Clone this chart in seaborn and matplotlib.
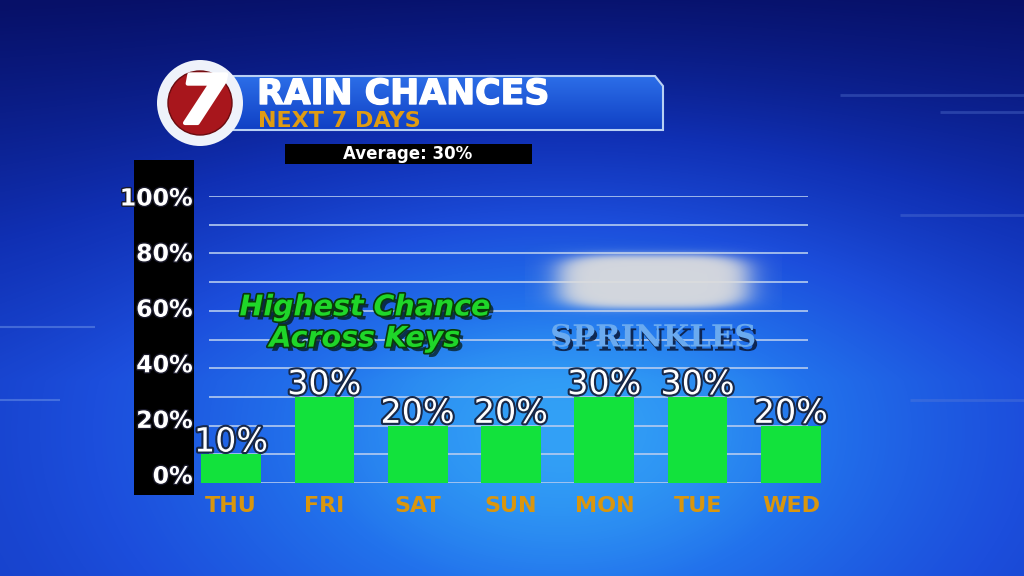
import numpy as np
import matplotlib.pyplot as plt
import matplotlib.patheffects as pe
import matplotlib.transforms as mtrans
from matplotlib.patches import Rectangle, Circle, Polygon
from matplotlib.colors import LinearSegmentedColormap
import seaborn as sns

# Data
days = ['THU', 'FRI', 'SAT', 'SUN', 'MON', 'TUE', 'WED']
chances = [10, 30, 20, 20, 30, 30, 20]
tick_values = [0, 20, 40, 60, 80, 100]
tick_labels = ['0%', '20%', '40%', '60%', '80%', '100%']
grid_values = list(range(0, 101, 10))
average = 30

plt.rcParams['font.family'] = 'DejaVu Sans'
W, H = 1024, 576
fig = plt.figure(figsize=(10.24, 5.76), dpi=100)

# Background layer (pixel coordinates)
bg = fig.add_axes([0, 0, 1, 1], zorder=0)
yy, xx = np.mgrid[0:H, 0:W]
glow = np.exp(-(((xx - 560) / 400.0) ** 2 + ((yy - 430) / 260.0) ** 2))
vert = np.clip(yy / 380.0, 0, 1)
shade = 0.6 * glow + 0.4 * vert
bg_cmap = LinearSegmentedColormap.from_list(
    'bg', [(0, '#071068'), (0.3, '#1030b4'), (0.55, '#1c4edc'), (0.8, '#2272ec'), (1, '#32a0f6')])
bg.imshow(shade, cmap=bg_cmap, extent=(0, W, H, 0), aspect='auto', zorder=0)

# faint decorative lines
bg.hlines([327, 400], [0, 0], [95, 60], colors='#6f95e8', lw=1.5, alpha=0.5, zorder=1)
bg.hlines([95, 112, 215, 400], [840, 940, 900, 910], [1024, 1024, 1024, 1024],
          colors='#5f7fd8', lw=2, alpha=0.35, zorder=1)

# black label panel
bg.add_patch(Rectangle((134, 160), 60, 335, facecolor='black', zorder=2))

# title banner
banner = Polygon([(232, 76), (655, 76), (663, 86), (663, 130), (232, 130)], closed=True,
                 facecolor='none', edgecolor='#b8d0f4', lw=1.5, zorder=4)
bg.add_patch(banner)
grad = np.linspace(0, 1, 60)[:, None] * np.ones((1, 10))
ban_cmap = LinearSegmentedColormap.from_list('ban', ['#2c6ee8', '#1040c4'])
im = bg.imshow(grad, cmap=ban_cmap, extent=(232, 663, 130, 76), aspect='auto', zorder=3)
im.set_clip_path(banner)
bg.set_xlim(0, W)
bg.set_ylim(H, 0)
bg.axis('off')

# logo
bg.add_patch(Circle((200, 103), 43, facecolor='#eef2fa', zorder=5))
bg.add_patch(Circle((200, 103), 32, facecolor='#a8161c', edgecolor='#6a0a0e', lw=1, zorder=6))
bg.text(203, 104, '7', fontsize=48, weight='heavy', style='italic', color='white',
        ha='center', va='center', zorder=7,
        path_effects=[pe.withStroke(linewidth=3, foreground='white')])

bg.text(257, 104, 'RAIN CHANCES', fontsize=25, weight='bold', color='white',
        ha='left', va='baseline', zorder=7,
        path_effects=[pe.withStroke(linewidth=1, foreground='white')])
bg.text(258, 127, 'NEXT 7 DAYS', fontsize=16, weight='bold', color='#e09c12',
        ha='left', va='baseline', zorder=7)

bg.add_patch(Rectangle((285, 144), 247, 20, facecolor='black', zorder=3))
bg.text(408, 154, f'Average: {average}%', fontsize=12, weight='bold', color='white',
        ha='center', va='center', zorder=4)

# Chart
ax = fig.add_axes([184.4 / W, (H - 483) / H, 653.2 / W, 287 / H], zorder=1)
ax.patch.set_alpha(0)
ax.hlines(grid_values, -0.24, 6.18, colors='#b4cbf0', lw=1.2, zorder=1)
sns.barplot(x=days, y=chances, color='#12e23c', saturation=1, width=0.64, ax=ax, zorder=3)
ax.set_xlim(-0.5, 6.5)
ax.set_ylim(0, 100)
ax.set_xlabel('')
ax.set_ylabel('')
for s in ax.spines.values():
    s.set_visible(False)

ax.set_yticks(tick_values)
ax.set_yticklabels(tick_labels, fontsize=17, weight='bold', color='white')
ax.tick_params(axis='y', length=0, pad=-6)
for lbl, v in zip(ax.get_yticklabels(), tick_values):
    # labels sit slightly above the gridlines as on the broadcast graphic
    shift = mtrans.ScaledTranslation(0, (100 - v) / 100 * 0.09, fig.dpi_scale_trans)
    lbl.set_transform(lbl.get_transform() + shift)
    lbl.set_path_effects([pe.withStroke(linewidth=2, foreground='#1a1a2a')])

ax.set_xticks(range(len(days)))
ax.set_xticklabels(days, fontsize=16, weight='bold', color='#d9960e')
ax.tick_params(axis='x', length=0, pad=9)

for i, v in enumerate(chances):
    ax.annotate(f'{v}%', (i, v), xytext=(0, 2), textcoords='offset points',
                ha='center', va='baseline', fontsize=24, color='white',
                path_effects=[pe.withStroke(linewidth=3, foreground='#182848')],
                annotation_clip=False)

# Overlay (pixel coordinates)
top = fig.add_axes([0, 0, 1, 1], zorder=2)
top.patch.set_alpha(0)

cy, cx = np.mgrid[236:330, 525:782]
d = ((cx - 653) / 96.0) ** 4 + ((cy - 281) / 27.0) ** 4
cloud = np.zeros(d.shape + (4,))
cloud[..., :3] = 0.87
cloud[..., 3] = 0.95 / (1 + d ** 3)
top.imshow(cloud, extent=(525, 782, 330, 236), aspect='auto', zorder=1)

top.text(365, 323, 'Highest Chance\nAcross Keys', fontsize=20.5, weight='bold', style='italic',
         color='#1fd629', ha='center', va='center', linespacing=1.15, zorder=3,
         path_effects=[pe.SimplePatchShadow(offset=(3, -3), shadow_rgbFace='#02140a', alpha=0.7),
                       pe.Stroke(linewidth=2.5, foreground='#0a3a0a'), pe.Normal()])
top.text(653, 338, 'SPRINKLES', fontsize=22, family='DejaVu Serif', weight='bold',
         color='#6aaaf0', ha='center', va='center', zorder=3,
         path_effects=[pe.SimplePatchShadow(offset=(2, -3), shadow_rgbFace='#0a1838', alpha=0.85),
                       pe.Normal()])
top.set_xlim(0, W)
top.set_ylim(H, 0)
top.axis('off')

fig.savefig('out.png', dpi=100)
